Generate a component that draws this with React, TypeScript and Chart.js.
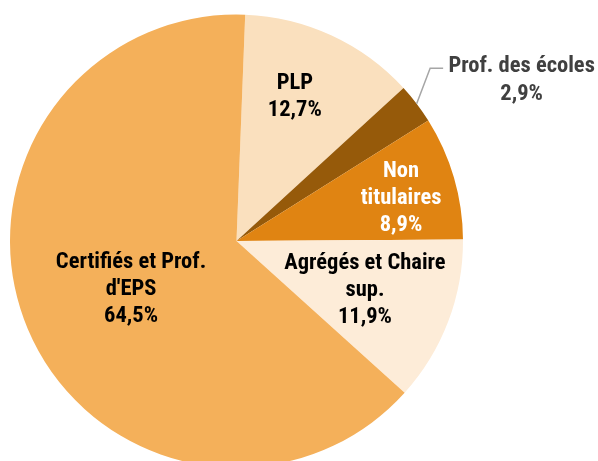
import React, { useEffect, useRef } from "react";
import { Chart, registerables } from "chart.js";

Chart.register(...registerables);

const categories = ["PLP", "Prof. des écoles", "Non titulaires", "Agrégés et Chaire sup.", "Certifiés et Prof. d'EPS"];
const values = [12.7, 2.9, 8.9, 11.9, 64.5];
const valueLabels = ["12,7%", "2,9%", "8,9%", "11,9%", "64,5%"];
const labelLines = [["PLP"], ["Prof. des écoles"], ["Non", "titulaires"], ["Agrégés et Chaire", "sup."], ["Certifiés et Prof.", "d'EPS"]];
const colors = ["#FAE0BE", "#965A0A", "#E08412", "#FDECD8", "#F4B05A"];
const textColors = ["#000000", "#404040", "#FFFFFF", "#000000", "#000000"];
const labelRadius = [0.698, 1.0, 0.753, 0.604, 0.508];
const labelAngleShift = [-3.2, 0, 1.0, -0.7, -0.7];

const FONT_SIZE = 22.5;
const FONT = `bold ${FONT_SIZE}px 'Roboto Condensed', Roboto, sans-serif`;

const labelPlugin = {
  id: "sliceLabels",
  afterDatasetsDraw(chart: any) {
    const ctx = chart.ctx;
    const meta = chart.getDatasetMeta(0);
    ctx.save();
    ctx.font = FONT;
    ctx.textAlign = "center";
    ctx.textBaseline = "alphabetic";
    const lh = 27;
    const capHalf = FONT_SIZE * 0.356;
    meta.data.forEach((arc: any, i: number) => {
      const { x, y, startAngle, endAngle, outerRadius } = arc.getProps(["x", "y", "startAngle", "endAngle", "outerRadius"], true);
      const mid = (startAngle + endAngle) / 2 + (labelAngleShift[i] * Math.PI) / 180;
      const lines = [...labelLines[i], valueLabels[i]];
      ctx.fillStyle = textColors[i];
      if (i === 1) {
        const ex = x + Math.cos(mid) * outerRadius;
        const ey = y + Math.sin(mid) * outerRadius;
        const kx = ex + 13.5;
        const ky = ey - 35.5;
        ctx.strokeStyle = "#A6A6A6";
        ctx.lineWidth = 1.5;
        ctx.beginPath();
        ctx.moveTo(ex, ey);
        ctx.lineTo(kx, ky);
        ctx.lineTo(kx + 13, ky);
        ctx.stroke();
        ctx.fillStyle = textColors[i];
        const cx = ex + 105;
        ctx.fillText(lines[0], cx, ey - 31.5);
        ctx.fillText(lines[1], cx, ey - 3.5);
        return;
      }
      const cx = x + Math.cos(mid) * outerRadius * labelRadius[i];
      const cy = y + Math.sin(mid) * outerRadius * labelRadius[i];
      const top = cy - ((lines.length - 1) * lh) / 2;
      lines.forEach((t, k) => ctx.fillText(t, cx, top + k * lh + capHalf));
    });
    ctx.restore();
  },
};

export default function App() {
  const ref = useRef<HTMLCanvasElement>(null);
  useEffect(() => {
    if (!ref.current) return;
    const chart = new Chart(ref.current, {
      type: "pie",
      data: {
        labels: categories,
        datasets: [{ data: values, backgroundColor: colors, borderWidth: 0 }],
      },
      options: {
        responsive: false,
        animation: false,
        rotation: 2.2,
        layout: { padding: { left: 10, right: 135, top: 14, bottom: 14 } },
        plugins: { legend: { display: false }, tooltip: { enabled: false } },
      },
      plugins: [labelPlugin],
    });
    return () => chart.destroy();
  }, []);
  return (
    <div style={{ position: "fixed", left: 0, top: 0, width: 598, height: 461, overflow: "hidden", background: "#fff" }}>
      <canvas ref={ref} width={598} height={482} style={{ display: "block" }} />
    </div>
  );
}
